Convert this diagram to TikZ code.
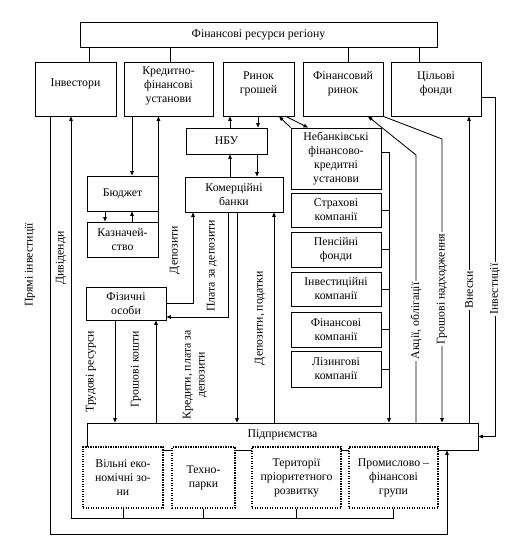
\documentclass[tikz,border=0pt]{standalone}
\usepackage{fontspec}
\setmainfont{Liberation Serif}
\usetikzlibrary{arrows.meta}
\begin{document}
\begin{tikzpicture}[x=1pt,y=-1pt,
  font=\fontsize{11.8}{14}\selectfont,
  box/.style={draw,line width=0.85pt,align=center,inner sep=1pt},
  rowbox/.style={box,minimum height=54pt},
  rowtext/.style={align=center,yshift=5pt,inner sep=0pt},
  dbox/.style={draw,fill=white,line width=1.4pt,dash pattern=on 1.4pt off 1.1pt,align=center,inner sep=1pt},
  ln/.style={line width=0.85pt},
  arr/.style={line width=0.85pt,-{Triangle[length=4.5pt,width=3.6pt]}},
  lbl/.style={rotate=90,inner sep=1pt,align=center},
  wlbl/.style={rotate=90,inner sep=1.5pt,fill=white}]
\fill[white] (0,0) rectangle (522,540);
\useasboundingbox (0,0) rectangle (522,540);

% top row
\node[box,minimum width=357pt,minimum height=25pt] (top) at (258.5,34.5) {Фінансові ресурси регіону};
\node[rowbox,minimum width=81pt,label={[rowtext]center:Інвестори}] (inv) at (75.5,89) {};
\node[rowbox,minimum width=89pt,label={[rowtext,yshift=-2pt]center:Кредитно-\\фінансові\\установи}] (kfu) at (168.5,89) {};
\node[rowbox,minimum width=71pt,label={[rowtext]center:Ринок\\грошей}] (rg) at (258.5,89) {};
\node[rowbox,minimum width=80pt,label={[rowtext]center:Фінансовий\\ринок}] (fr) at (343,89) {};
\node[rowbox,minimum width=90pt,label={[rowtext]center:Цільові\\фонди}] (cf) at (436,89) {};

% middle
\node[box,minimum width=81pt,minimum height=26pt] (nbu) at (226.5,141) {НБУ};
\node[box,minimum width=98pt,minimum height=35pt] (kb) at (234,194.5) {Комерційні\\банки};
\node[box,minimum width=71pt,minimum height=35pt] (bud) at (122.5,193.5) {Бюджет};
\node[box,minimum width=71pt,minimum height=35pt] (kaz) at (122.5,239.5) {Казначей-\\ство};
\node[box,minimum width=80pt,minimum height=33pt] (fiz) at (126,303.5) {Фізичні\\особи};

% non-bank group
\node[box,minimum width=90pt,minimum height=61pt] (nbk) at (336,158.5) {Небанківські\\фінансово-\\кредитні\\установи};
\node[box,minimum width=90pt,minimum height=34pt] (str) at (336,210) {Страхові\\компанії};
\node[box,minimum width=90pt,minimum height=35pt] (pen) at (336,249.5) {Пенсійні\\фонди};
\node[box,minimum width=90pt,minimum height=34pt] (ivk) at (336,289) {Інвестиційні\\компанії};
\node[box,minimum width=90pt,minimum height=35pt] (fin) at (336,329.5) {Фінансові\\компанії};
\node[box,minimum width=90pt,minimum height=36pt] (liz) at (336,369) {Лізингові\\компанії};

% enterprises
\node[box,minimum width=391pt,minimum height=27pt] (pid) at (282.5,436.5) {};
\node (pidt) at (282.5,435) {Підприємства};
\node[dbox,minimum width=80pt,minimum height=61pt] (vez) at (123,477.5) {Вільні еко-\\номічні зо-\\ни};
\node[dbox,minimum width=63pt,minimum height=61pt] (tp) at (203.5,477.5) {Техно-\\парки};
\node[dbox,minimum width=89pt,minimum height=61pt] (tpr) at (296.5,477.5) {Території\\пріоритетного\\розвитку};
\node[dbox,minimum width=89pt,minimum height=61pt] (pfg) at (393.5,477.5) {Промислово –\\фінансові\\групи};

% top connectors
\draw[ln] (top.south -| 89,0) -- (inv.north -| 89,0);
\draw[ln] (top.south -| 170,0) -- (kfu.north -| 170,0);
\draw[ln] (top.south -| 348,0) -- (fr.north -| 348,0);
\draw[ln] (top.south -| 419,0) -- (cf.north -| 419,0);

% investors loops
\draw[arr] (inv.south -| 50,0) |- (447,534) -- (pid.south -| 447,0);
\draw[ln] (vez.south) -- (vez.south |- 0,518);
\draw[ln] (tp.south) -- (tp.south |- 0,518);
\draw[ln] (tpr.south) -- (tpr.south |- 0,518);
\draw[arr] (pfg.south) |- (71,518) -- (inv.south -| 71,0);

% credit institutions, budget, treasury
\draw[arr] (kfu.south -| 132,0) -- (bud.north -| 132,0);
\draw[arr] (kaz.south east) -- (kfu.south -| kaz.east);
\draw[arr] (bud.south -| 105,0) -- (kaz.north -| 105,0);
\draw[arr] (kaz.north -| 132,0) -- (bud.south -| 132,0);

% money market, NBU, banks
\draw[arr] (nbu.north -| 230,0) -- (rg.south -| 230,0);
\draw[arr] (rg.south -| 258,0) -- (nbu.north -| 258,0);
\draw[arr] (kb.north -| 230,0) -- (nbu.south -| 230,0);
\draw[arr] (nbu.south -| 257,0) -- (kb.north -| 257,0);
\draw[arr] (nbk.north west) -- (rg.south -| 279,0);
\draw[arr] (rg.south -| 286,0) -- (nbk.north -| 308,0);

% individuals and banks
\draw[arr] (fiz.east) -| (kb.south -| 193,0);
\draw[arr] (kb.south -| 228,0) |- (fiz.east |- 0,317);
\draw[arr] (kb.south -| 237,0) -- (pid.north -| 237,0);
\draw[arr] (pid.north -| 274,0) -- (kb.south -| 274,0);
\draw[arr] (fiz.south -| 115,0) -- (pid.north -| 115,0);
\draw[arr] (pid.north -| 156,0) -- (fiz.south -| 156,0);

% non-bank bracket
\draw[arr] (nbk.east |- 0,152) -| (pid.north -| 389,0);
\draw[ln] (str.east) -- (str.east -| 389,0);
\draw[ln] (pen.east) -- (pen.east -| 389,0);
\draw[ln] (ivk.east) -- (ivk.east -| 389,0);
\draw[ln] (fin.east) -- (fin.east -| 389,0);
\draw[ln] (liz.east) -- (liz.east -| 389,0);

% financial market and funds
\draw[arr] (pid.north -| 416,0) -- (416,155) -- (fr.south -| 368,0);
\draw[arr] (fr.south east) -- (442,139) -- (pid.north -| 442,0);
\draw[arr] (pid.north -| 469,0) -- (cf.south -| 469,0);
\draw[arr] (cf.east |- 0,97) -- (495,97) |- (pid.east);

% labels
\node[lbl] (l1) at (30,265) {Прямі інвестиції};
\node[lbl] (l2) at (61,258) {Дивіденди};
\node[lbl] (l3) at (175,250) {Депозити};
\node[lbl] (l4) at (212,266) {Плата за депозити};
\node[lbl] (l5) at (91,372) {Трудові ресурси};
\node[lbl] (l6) at (136,369) {Грошові кошти};
\node[lbl] (l7) at (195,375) {Кредити, плата за\\депозити};
\node[lbl] (l8) at (260,318) {Депозити, податки};
\node[wlbl] (l9) at (416,321) {Акції, облігації};
\node[wlbl] (l10) at (442,289) {Грошові надходження};
\node[wlbl] (l11) at (469,290) {Внески};
\node[wlbl] (l12) at (495,289) {Інвестиції};
\end{tikzpicture}
\end{document}
